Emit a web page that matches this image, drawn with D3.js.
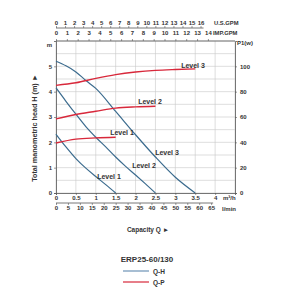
<!DOCTYPE html>
<html><head><meta charset="utf-8">
<script src="https://cdn.jsdelivr.net/npm/d3@7"></script>
<style>body{margin:0;background:#fff}svg{display:block}text{font-family:"Liberation Sans",Arial,sans-serif;font-weight:bold;fill:#333}</style>
</head><body>
<script>
// Q-H curves (Q in m3/h, H in m)
const qhLevel1Q = [0, 0.25, 0.5, 0.75, 1.0, 1.25, 1.5];
const qhLevel1H = [2.32, 1.82, 1.36, 0.98, 0.65, 0.33, 0];
const qhLevel2Q = [0, 0.25, 0.5, 0.75, 1.0, 1.25, 1.5, 1.75, 2.0, 2.25, 2.5];
const qhLevel2H = [4.15, 3.62, 3.11, 2.62, 2.2, 1.82, 1.42, 1.05, 0.71, 0.36, 0];
const qhLevel3Q = [0, 0.25, 0.5, 0.75, 1.0, 1.5, 2.0, 2.5, 3.0, 3.5];
const qhLevel3H = [5.2, 5.02, 4.78, 4.44, 4.13, 3.22, 2.3, 1.42, 0.62, 0];
// Q-P curves (P in W)
const qpLevel1Q = [0, 0.5, 1.0, 1.5];
const qpLevel1P = [39.5, 42.5, 43.5, 44];
const qpLevel2Q = [0, 0.5, 1.0, 1.5, 2.0, 2.5];
const qpLevel2P = [58.5, 62, 64.5, 67, 68, 68.5];
const qpLevel3Q = [0, 0.5, 1.0, 1.5, 2.0, 2.5, 3.0, 3.5];
const qpLevel3P = [85, 87, 90.5, 93.5, 95.5, 96.8, 97.5, 98];
// tick labels
const m3hTicks = [0, 0.5, 1, 1.5, 2, 2.5, 3, 3.5, 4];
const lminTicks = [0, 5, 10, 15, 20, 25, 30, 35, 40, 45, 50, 55, 60, 65];
const usGpmTicks = [0,1,2,3,4,5,6,7,8,9,10,11,12,13,14,15,16];
const impGpmTicks = [0,1,2,3,4,5,6,7,8,9,10,11,12,13,14];
const hTicks = [0, 1, 2, 3, 4, 5];
const pTicks = [0, 20, 40, 60, 80, 100];
const levelNames = ["Level 1", "Level 2", "Level 3"];
const modelName = "ERP25-60/130";
const legendNames = ["Q-H", "Q-P"];

const blue = "#3b6b8e", red = "#d8283b";
const W = 300, H = 300;
const svg = d3.select("body").append("svg").attr("width", W).attr("height", H);
svg.append("rect").attr("width", W).attr("height", H).attr("fill", "#fff");

const x = d3.scaleLinear([0, 4.5], [56, 235]);
const y = d3.scaleLinear([0, 6], [193, 41]);
const yP = d3.scaleLinear([0, 120], [193, 41]);

// grid
const g = svg.append("g");
g.selectAll(".vg").data(d3.range(0, 4.51, 0.5)).join("line")
  .attr("x1", d => x(d)).attr("x2", d => x(d)).attr("y1", y(0)).attr("y2", y(6))
  .attr("stroke", "#c8c8c8").attr("stroke-width", 0.6);
g.selectAll(".hg").data(d3.range(0, 6.01, 0.5)).join("line")
  .attr("y1", d => y(d)).attr("y2", d => y(d)).attr("x1", x(0)).attr("x2", x(4.5))
  .attr("stroke", "#c8c8c8").attr("stroke-width", 0.6);

// axes
const fs = 6;
function styleAxis(sel){
  sel.selectAll("path").attr("stroke", "#555").attr("stroke-width", 0.8);
  sel.selectAll("line").attr("stroke", "#555").attr("stroke-width", 0.6);
  sel.selectAll("text").attr("font-size", fs).attr("fill", "#333")
    .style("font-family", '"Liberation Sans",Arial,sans-serif').style("font-weight", "bold");
}
const axL = svg.append("g").attr("transform", `translate(${x(0)},0)`)
  .call(d3.axisLeft(y).tickValues(hTicks).tickSize(2).tickPadding(2).tickFormat(d3.format("d")));
styleAxis(axL);
const axR = svg.append("g").attr("transform", `translate(${x(4.5)},0)`)
  .call(d3.axisRight(yP).tickValues(pTicks).tickSize(2).tickPadding(3).tickFormat(d3.format("d")));
styleAxis(axR);
const axB = svg.append("g").attr("transform", `translate(0,${y(0)})`)
  .call(d3.axisBottom(x).tickValues(m3hTicks).tickSize(2).tickPadding(1).tickFormat(d => d));
styleAxis(axB);
const xl = d3.scaleLinear([0, 4.5 * 1000 / 60], [56, 235]);
const axB2 = svg.append("g").attr("transform", `translate(0,203)`)
  .call(d3.axisBottom(xl).tickValues(lminTicks).tickSize(2).tickPadding(1).tickSizeOuter(0));
styleAxis(axB2);
axB2.select("path").attr("d", `M${x(0)},0H${xl(65)+2}`);
const xus = d3.scaleLinear([0, 4.5 / 0.2271], [56, 235]);
const axT1 = svg.append("g").attr("transform", `translate(0,28)`)
  .call(d3.axisTop(xus).tickValues(usGpmTicks).tickSize(2).tickPadding(1).tickSizeOuter(0));
styleAxis(axT1);
axT1.select("path").attr("d", `M${x(0)},0H${xus(16)+3}`);
const ximp = d3.scaleLinear([0, 4.5 / 0.2728], [56, 235]);
const axT2 = svg.append("g").attr("transform", `translate(0,${y(6)})`)
  .call(d3.axisTop(ximp).tickValues(impGpmTicks).tickSize(2).tickPadding(4).tickSizeOuter(0));
styleAxis(axT2);
axT2.select("path").attr("d", `M${x(0)},0H${x(4.5)}`);

// unit labels
function txt(t, px, py, opts = {}){
  return svg.append("text").attr("x", px).attr("y", py).text(t)
    .attr("font-size", opts.fs || fs).attr("text-anchor", opts.anchor || "start")
    .attr("dominant-baseline", "central").attr("fill", opts.fill || "#333");
}
txt("U.S.GPM", 214, 23, {fs: 5.8});
txt("IMP.GPM", 213, 33, {fs: 5.8});
txt("m", 52, 45, {anchor: "end"});
txt("P1(w)", 237, 43);
txt("m³/h", 223, 198);
txt("l/min", 222, 209);
txt("Capacity Q ►", 148, 229, {anchor: "middle", fs: 6.5});
svg.append("text").attr("transform", "translate(34,128) rotate(-90)")
  .attr("text-anchor", "middle").attr("dominant-baseline", "central")
  .attr("font-size", 7.2).text("Total manometric head H (m) ►");

// curves
const lineH = d3.line().x(d => x(d[0])).y(d => y(d[1])).curve(d3.curveMonotoneX);
const lineP = d3.line().x(d => x(d[0])).y(d => yP(d[1])).curve(d3.curveMonotoneX);
const qh = [[qhLevel1Q, qhLevel1H], [qhLevel2Q, qhLevel2H], [qhLevel3Q, qhLevel3H]];
const qp = [[qpLevel1Q, qpLevel1P], [qpLevel2Q, qpLevel2P], [qpLevel3Q, qpLevel3P]];
qh.forEach(([qs, hs]) => svg.append("path").attr("d", lineH(qs.map((q, i) => [q, hs[i]])))
  .attr("fill", "none").attr("stroke", blue).attr("stroke-width", 1.2));
qp.forEach(([qs, ps]) => svg.append("path").attr("d", lineP(qs.map((q, i) => [q, ps[i]])))
  .attr("fill", "none").attr("stroke", red).attr("stroke-width", 1.4));

// level labels
const redLab = [[122, 132], [150, 101], [193, 65]];
const blueLab = [[109, 176], [144, 165], [167, 152]];
levelNames.forEach((n, i) => {
  txt(n, redLab[i][0], redLab[i][1], {anchor: "middle", fs: 7, fill: red});
  txt(n, blueLab[i][0], blueLab[i][1], {anchor: "middle", fs: 7, fill: blue});
});

// legend
txt(modelName, 147, 259, {anchor: "middle", fs: 8, fill: "#222"});
svg.append("line").attr("x1", 123).attr("x2", 149).attr("y1", 271).attr("y2", 271).attr("stroke", "#6d93b6").attr("stroke-width", 1.2);
svg.append("line").attr("x1", 123).attr("x2", 149).attr("y1", 282).attr("y2", 282).attr("stroke", red).attr("stroke-width", 1.2);
txt(legendNames[0], 153, 271, {fs: 6.5, fill: "#222"});
txt(legendNames[1], 153, 282, {fs: 6.5, fill: "#222"});
</script>
</body></html>
